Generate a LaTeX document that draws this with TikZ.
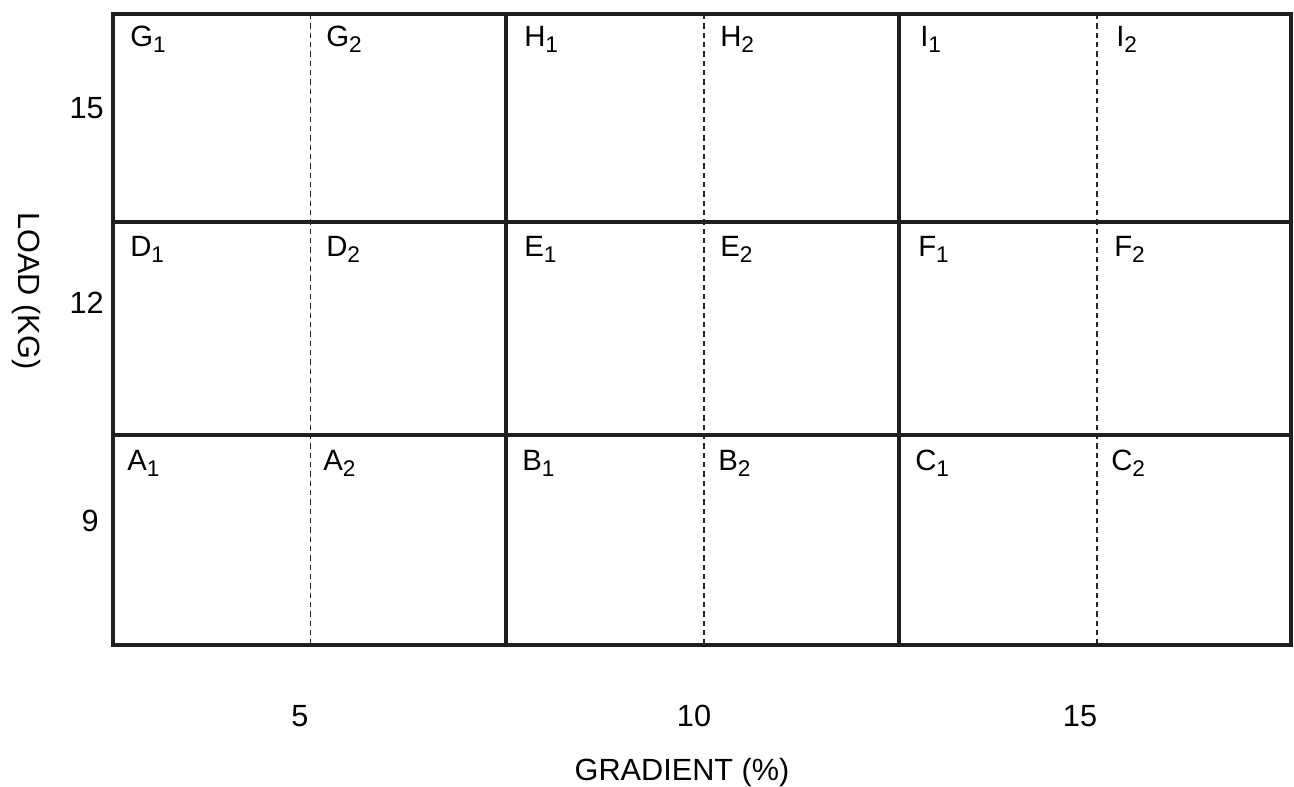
\documentclass[tikz,border=0pt]{standalone}
\usepackage{fontspec}
\setmainfont{Liberation Sans}
\newcommand{\cellsub}[1]{\raisebox{-4.5pt}{\fontsize{17}{20}\selectfont #1}}
\begin{document}
\begin{tikzpicture}[x=0.75pt,y=-0.75pt,
  gridline/.style={line width=3.2, black!88},
  midline/.style={line width=1.1, black!85, dash pattern=on 4 off 3},
  cell/.style={anchor=base west, inner sep=0pt, font=\fontsize{22}{26}\selectfont},
  tick/.style={inner sep=0pt, font=\fontsize{23}{27}\selectfont},
  axis/.style={inner sep=0pt, font=\fontsize{23}{27}\selectfont}]
\useasboundingbox (0,0) rectangle (1294,787);
\fill[white] (0,0) rectangle (1294,787);
% grid coordinates
\foreach \i/\x in {0/113,1/506,2/899,3/1291}{
  \foreach \j/\y in {0/14,1/222,2/435,3/645}{
    \coordinate (p\i\j) at (\x,\y);
  }
}
\foreach \i/\x in {0/310.5,1/704,2/1097}{
  \coordinate (mt\i) at (\x,14);
  \coordinate (mb\i) at (\x,645);
}
% dashed mid lines
\foreach \i in {0,1,2}{ \draw[midline] (mt\i) -- (mb\i); }
% solid grid
\draw[gridline] (p00) rectangle (p33);
\draw[gridline] (p01) -- (p31);
\draw[gridline] (p02) -- (p32);
\draw[gridline] (p10) -- (p13);
\draw[gridline] (p20) -- (p23);
% cell labels
\foreach \L/\x/\y in {G/130/47,H/524/47,I/920/47,D/130/257,E/524/257,F/918/257,A/127/470,B/522/470,C/915/470}{
  \node[cell] (\L1) at (\x,\y) {\L\cellsub{1}};
  \node[cell] (\L2) at (\x+196,\y) {\L\cellsub{2}};
}
% y tick labels
\node[tick, anchor=east] (y15) at (104,108) {15};
\node[tick, anchor=east] (y12) at (104,303) {12};
\node[tick, anchor=east] (y9) at (99,521) {9};
% x tick labels
\node[tick] (x5) at (300,716) {5};
\node[tick] (x10) at (694,716) {10};
\node[tick] (x15) at (1080,716) {15};
% axis titles
\node[axis] (xt) at (682,773) {GRADIENT (\%)};
\node[axis, rotate=-90] (yt) at (26,291) {LOAD (KG)};
\end{tikzpicture}
\end{document}
